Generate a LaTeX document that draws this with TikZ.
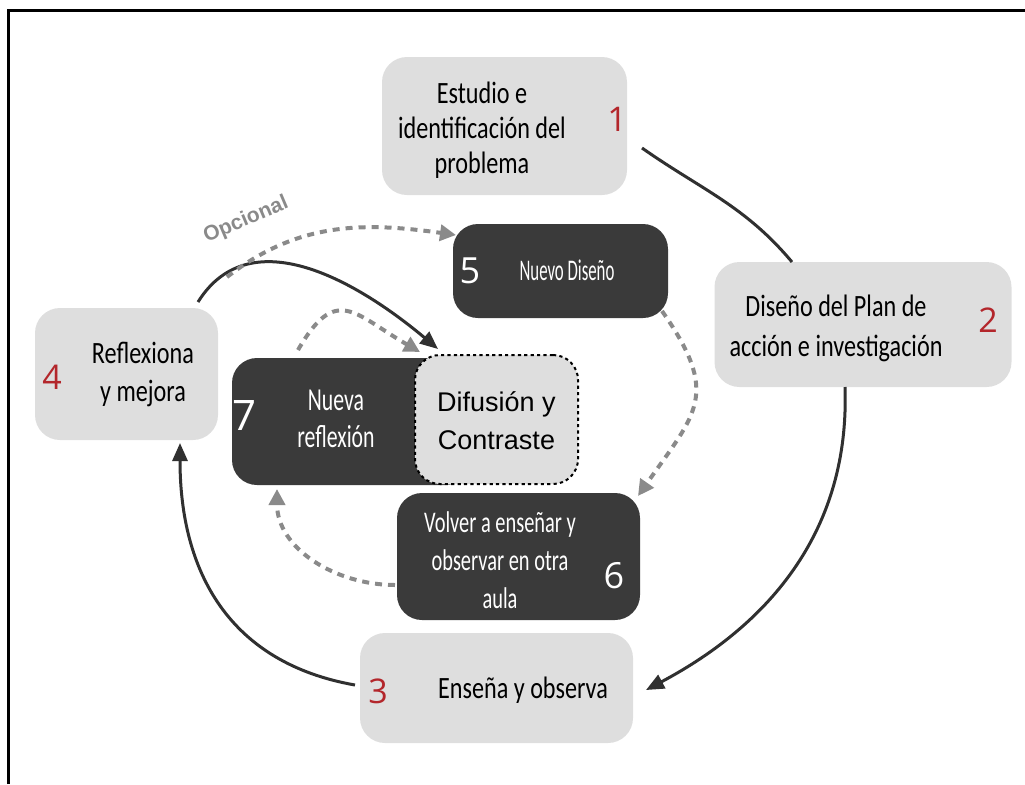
\documentclass[tikz,border=0pt]{standalone}
\usepackage{fontspec}
\usetikzlibrary{arrows.meta}
\newfontfamily\condfont[FakeStretch=0.78]{Carlito}
\newfontfamily\narrowfont[FakeStretch=0.68]{Carlito}
\newfontfamily\tightfont[FakeStretch=0.56]{Carlito}
\newfontfamily\numfont{Open Sans}
\newfontfamily\arialfont{Liberation Sans}
\definecolor{boxlight}{HTML}{DEDEDE}
\definecolor{boxdark}{HTML}{3A3A3A}
\definecolor{numred}{HTML}{B3262B}
\definecolor{dashgray}{HTML}{8A8A8A}
\definecolor{linedark}{HTML}{303030}
\begin{document}
\begin{tikzpicture}[x=0.5pt,y=0.5pt,
    lightbox/.style={fill=boxlight,rounded corners=12.5pt,inner sep=0pt,outer sep=0pt},
    darkbox/.style={fill=boxdark,rounded corners=12.5pt,inner sep=0pt,outer sep=0pt},
    numlabel/.style={font=\numfont\fontsize{17}{20}\selectfont,text=numred},
    whitenum/.style={font=\numfont\fontsize{18}{20}\selectfont,text=white},
    solidline/.style={draw=linedark,line width=1.5pt},
    solidarrow/.style={solidline,-{Triangle[length=9pt,width=7.5pt]}},
    dasharrow/.style={draw=dashgray,line width=2pt,dash pattern=on 3.5pt off 3pt,
      -{Triangle[length=8pt,width=8pt]}}]
  \useasboundingbox (0,0) rectangle (1025,-784);
  \draw[line width=1.5pt] (8,-784) -- (8,-10) -- (1025,-10);
  % boxes
  \draw
    (504.5,-126) node[lightbox,minimum width=122.5pt,minimum height=69pt] (b1){}
    (863,-324.5) node[lightbox,minimum width=148.5pt,minimum height=62.5pt] (b2){}
    (496.5,-688) node[lightbox,minimum width=136.5pt,minimum height=55pt] (b3){}
    (126.5,-374) node[lightbox,minimum width=91.5pt,minimum height=66pt] (b4){}
    (560.5,-271) node[darkbox,minimum width=107.5pt,minimum height=47pt] (b5){}
    (518.5,-556.5) node[darkbox,minimum width=121.5pt,minimum height=63.5pt] (b6){}
    (351,-421.5) node[darkbox,minimum width=119pt,minimum height=63.5pt] (b7){}
    (496.5,-419.5) node[lightbox,draw=black,line width=1pt,dash pattern=on 1.6pt off 1.6pt,
      minimum width=81.5pt,minimum height=64.5pt] (dif){};
  % texts
  \draw
    (482,-130) node[font=\condfont\fontsize{15.5}{17.5}\selectfont,align=center] (t1){Estudio e\\identificación del\\problema}
    (836,-328) node[font=\condfont\fontsize{15.5}{20}\selectfont,align=center] (t2){Diseño del Plan de\\acción e investigación}
    (523,-690) node[font=\condfont\fontsize{15.5}{18}\selectfont] (t3){Enseña y observa}
    (143,-374) node[font=\condfont\fontsize{15.5}{19}\selectfont,align=center] (t4){Reflexiona\\y mejora}
    (567,-270) node[font=\tightfont\fontsize{15}{16}\selectfont,text=white] (t5){Nuevo Diseño}
    (500,-560) node[font=\narrowfont\fontsize{15}{19}\selectfont,align=center,text=white] (t6){Volver a enseñar y\\observar en otra\\aula}
    (336,-419) node[font=\narrowfont\fontsize{16}{18.5}\selectfont,align=center,text=white] (t7){Nueva\\reflexión}
    (496.5,-421) node[font=\arialfont\fontsize{13.5}{19}\selectfont,align=center] (tdif){Difusión y\\Contraste}
    (246,-220) node[rotate=23,font=\arialfont\bfseries\fontsize{10.5}{12}\selectfont,text=dashgray] (opc){Opcional};
  % numbers
  \draw
    (617,-119) node[numlabel] (n1){1}
    (988,-320) node[numlabel] (n2){2}
    (378,-691) node[numlabel] (n3){3}
    (52,-377) node[numlabel] (n4){4}
    (470,-271) node[whitenum] (n5){5}
    (614,-576) node[whitenum] (n6){6}
    (245,-415) node[whitenum,font=\numfont\fontsize{21}{22}\selectfont] (n7){7};
  % main cycle
  \begin{scope}
    \draw[solidline] ([shift={(15,-22)}]b1.east) to[out=-35,in=130] ([shift={(-71,0)}]b2.north);
    \draw[solidarrow] ([shift={(-18,0)}]b2.south) to[out=-88,in=28] ([shift={(13,-2)}]b3.east);
    \draw[solidarrow] ([shift={(-5,3)}]b3.west) to[out=170,in=-90,looseness=1.1] ([shift={(53.5,-3)}]b4.south);
    \draw[solidarrow] ([shift={(71.5,6)}]b4.north) to[out=58,in=140,looseness=1.05] ([shift={(23,6)}]dif.north west);
  \end{scope}
  % second cycle
  \begin{scope}
    \draw[dasharrow] ([shift={(9,31)}]b4.north east) to[out=38,in=172] ([shift={(3,36)}]b5.west);
    \draw[dasharrow] ([shift={(-6,7)}]b5.south east) to[out=-55,in=55,looseness=1.4] ([shift={(-2,-3)}]b6.north east);
    \draw[dasharrow] ([shift={(-2,-28.5)}]b6.west) to[out=180,in=-90] ([shift={(-74,-4)}]b7.south);
    \draw[dasharrow] ([shift={(-53,8)}]b7.north) to[out=60,in=150,looseness=1.6] ([shift={(5,3)}]dif.north west);
  \end{scope}
\end{tikzpicture}
\end{document}
